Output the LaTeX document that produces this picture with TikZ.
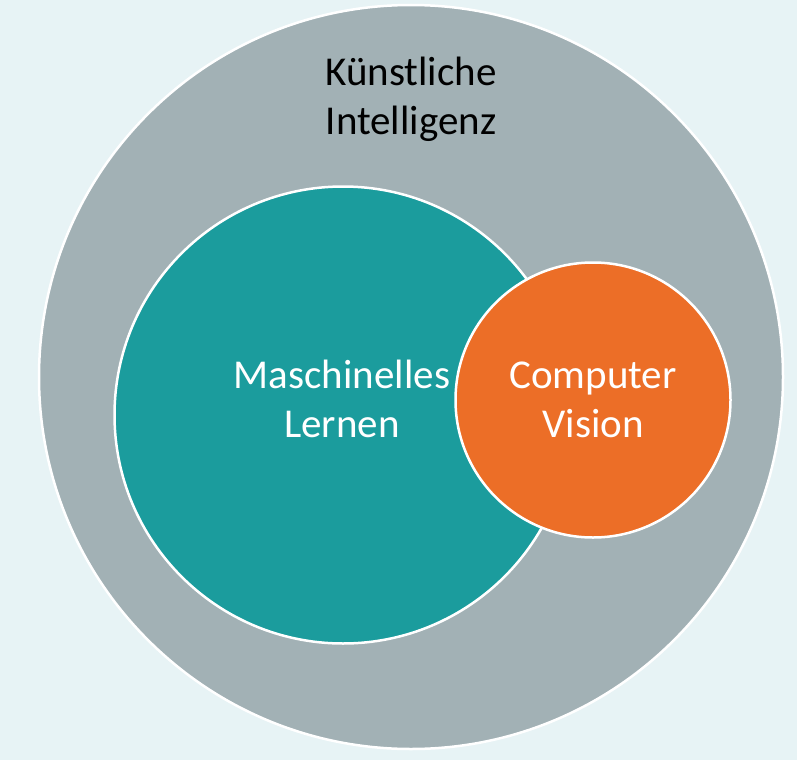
\documentclass[tikz,border=0pt]{standalone}
\usepackage{fontspec}
\setmainfont{Carlito}
\definecolor{bgc}{HTML}{E7F3F5}
\definecolor{kigray}{HTML}{A2B1B5}
\definecolor{mlteal}{HTML}{1B9C9D}
\definecolor{cvorange}{HTML}{EC6E27}
\tikzset{
  setcircle/.style={circle, draw=white, line width=2.5pt, inner sep=0pt},
  label/.style={align=center, inner sep=0pt, text depth=0pt, anchor=south,
    font=\fontsize{41}{49}\selectfont}
}
\begin{document}
\begin{tikzpicture}[x=1pt,y=-1pt]
  \fill[bgc] (0,0) rectangle (797,760);
  \useasboundingbox (0,0) rectangle (797,760);
  \node[setcircle, fill=kigray, minimum size=744pt] (ki) at (411,377) {};
  \node[setcircle, fill=mlteal, minimum size=457pt] (ml) at (343,415) {};
  \node[setcircle, fill=cvorange, minimum size=275pt] (cv) at (593,400) {};
  \node[label, text=black] (kit) at (411,135) {Künstliche\\Intelligenz};
  \node[label, text=white] (mlt) at (342,438) {Maschinelles\\Lernen};
  \node[label, text=white] (cvt) at (593,438) {Computer\\Vision};
\end{tikzpicture}
\end{document}
